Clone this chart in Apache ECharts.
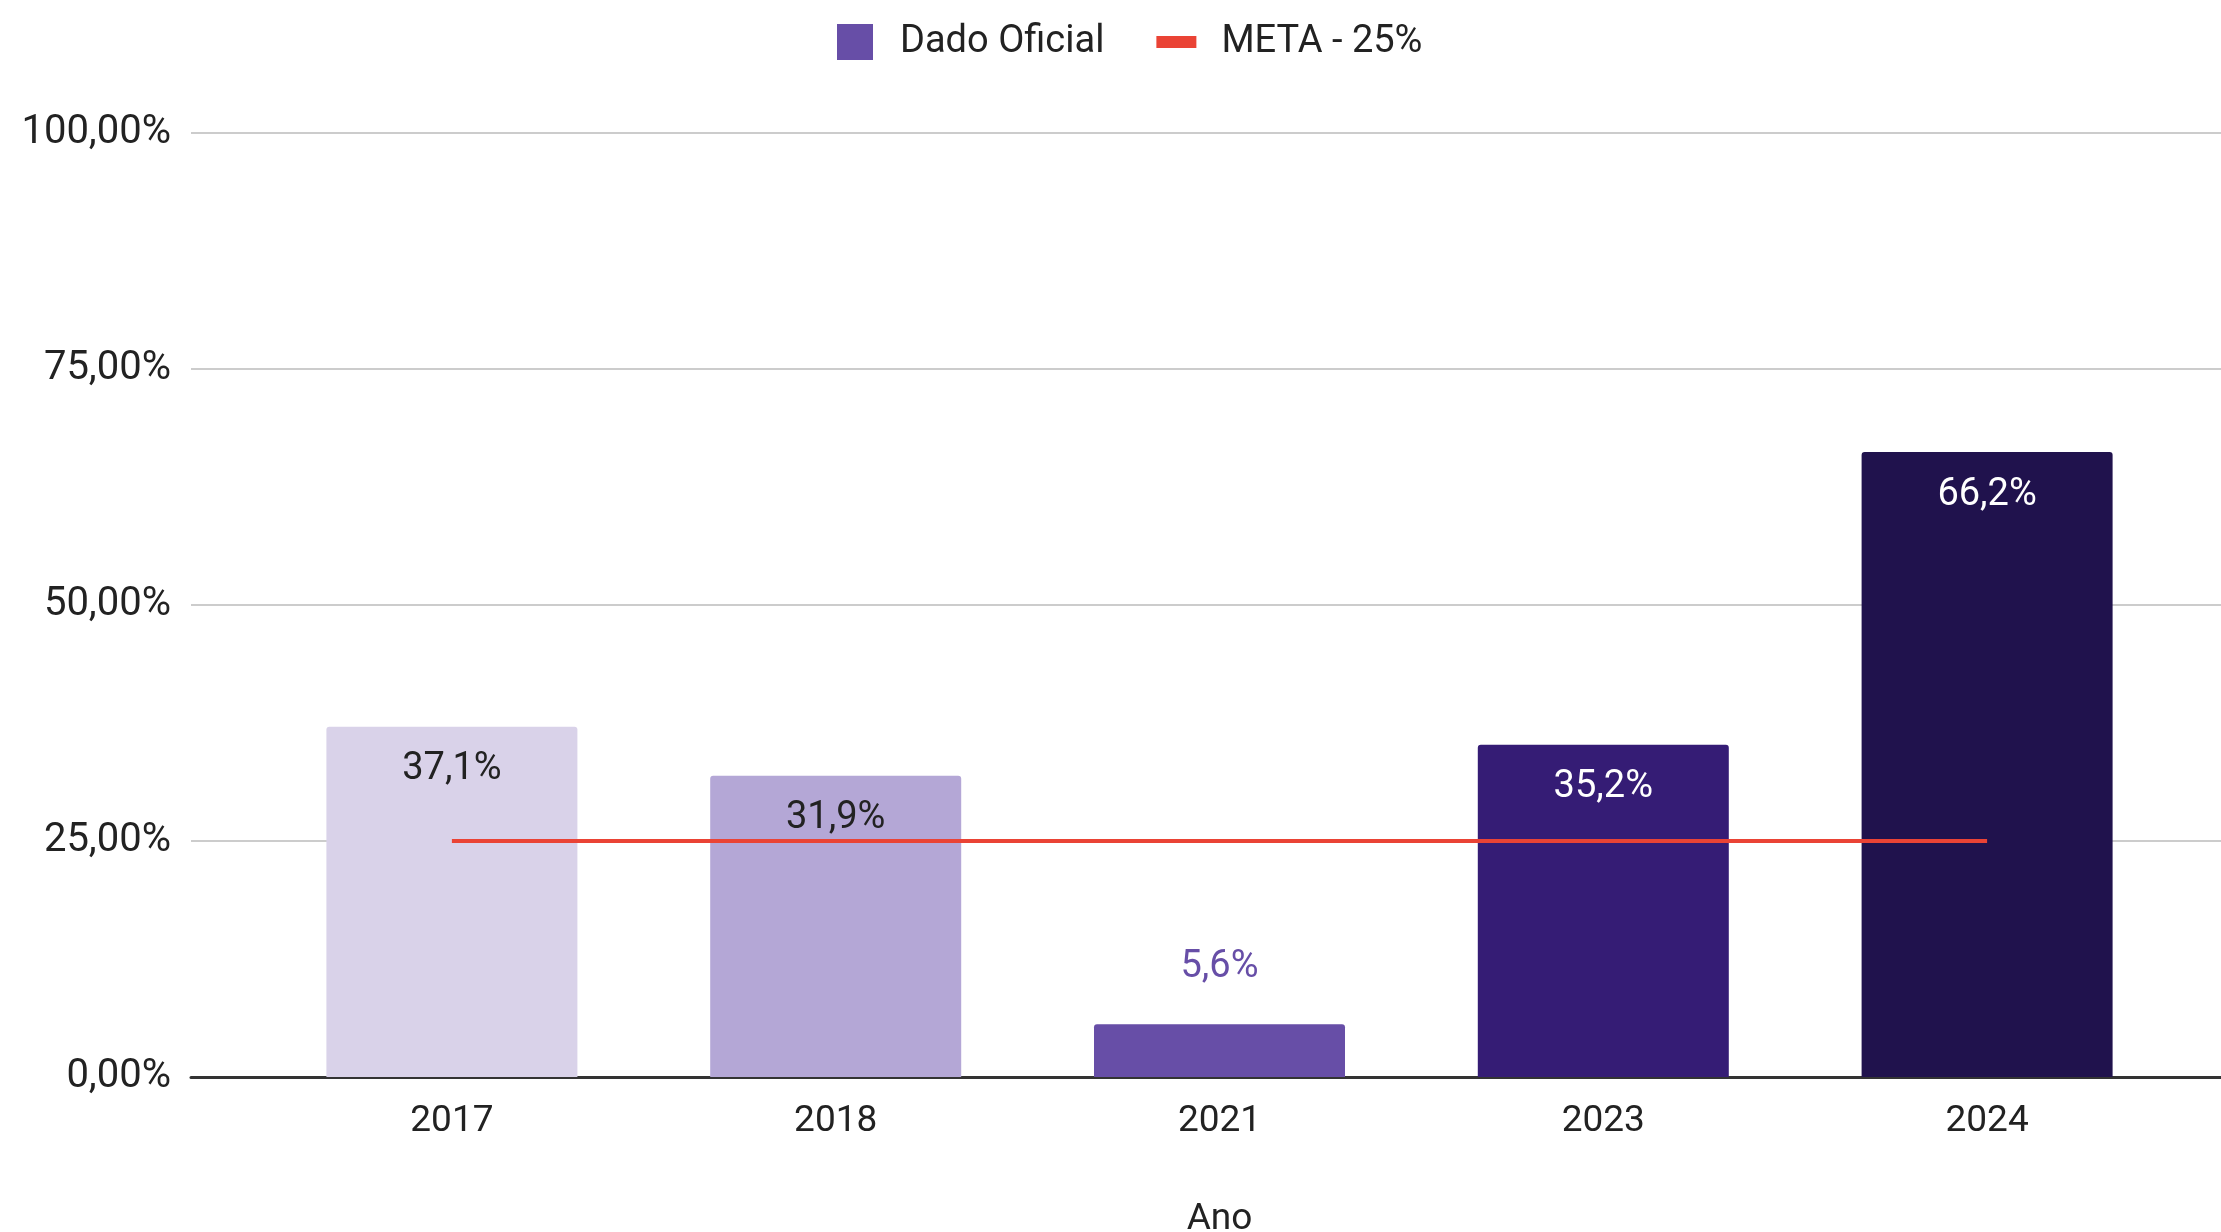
<!DOCTYPE html>
<html>
<head>
    <meta http-equiv="Content-Type" content="text/html; charset=utf-8" />
    <script type="text/javascript" src="https://cdn.jsdelivr.net/npm/echarts@6/dist/echarts.min.js"></script>
    <style>
        html, body { margin: 0; padding: 0; background: #fff; }
    </style>
</head>
<body>
    <div id="chartDom" style="position: absolute; width: 2221px; height: 1232px;"></div>

    <script type="text/javascript">
        // dados
        var anos = ['2017', '2018', '2021', '2023', '2024'];
        var dadoOficial = [37.1, 31.9, 5.6, 35.2, 66.2];
        var meta = [25, 25, 25, 25, 25];
        var corBarras = ['#d9d2e9', '#b4a7d6', '#674ea7', '#351c75', '#20124d'];
        var corRotulos = ['#222222', '#222222', '#674ea7', '#ffffff', '#ffffff'];
        var rotuloDentro = [true, true, false, true, true];
        var ticksY = [0, 25, 50, 75, 100];

        var fonte = 'Roboto';

        var barData = dadoOficial.map(function (v, i) {
            return {
                value: v,
                itemStyle: { color: corBarras[i] },
                label: {
                    color: corRotulos[i],
                    position: rotuloDentro[i] ? 'insideTop' : 'top',
                    distance: rotuloDentro[i] ? 24 : 38
                }
            };
        });

        var myChart = echarts.init(document.getElementById("chartDom"));
        var option = {
            animation: false,
            backgroundColor: '#ffffff',
            textStyle: { fontFamily: fonte },
            legend: {
                top: 23,
                left: 837,
                padding: 0,
                itemWidth: 40,
                itemHeight: 36,
                itemGap: 52,
                textStyle: { fontSize: 38, color: '#222222', fontFamily: fonte, padding: [0, 0, 0, 20] },
                data: [
                    { name: 'Dado Oficial', icon: 'path://M0,0h10v10h-10z', itemStyle: { color: '#674ea7' } },
                    { name: 'META - 25%', icon: 'path://M0,0h40v12h-40z', itemStyle: { color: '#ea4335' } }
                ]
            },
            grid: [
                { left: 191, right: 0, top: 133, bottom: 155, outerBoundsMode: 'none' },
                { left: 260, right: 42, top: 133, bottom: 155, outerBoundsMode: 'none' }
            ],
            xAxis: [
                {
                    gridIndex: 0, type: 'value', min: 0, max: 1,
                    axisLine: { show: true, lineStyle: { color: '#333333', width: 3 } },
                    axisTick: { show: false }, axisLabel: { show: false }, splitLine: { show: false }
                },
                {
                    gridIndex: 1, type: 'category', data: anos,
                    axisLine: { show: false }, axisTick: { show: false },
                    axisLabel: { fontSize: 37, color: '#222222', margin: 26, fontFamily: fonte },
                    name: 'Ano', nameLocation: 'middle', nameGap: 124,
                    nameTextStyle: { fontSize: 37, color: '#222222', fontFamily: fonte }
                }
            ],
            yAxis: [
                {
                    gridIndex: 0, type: 'value', min: 0, max: 100, interval: 25,
                    axisLine: { show: false }, axisTick: { show: false },
                    axisLabel: {
                        fontSize: 40, color: '#222222', margin: 20, fontFamily: fonte,
                        formatter: function (v) { return v.toFixed(2).replace('.', ',') + '%'; }
                    },
                    splitLine: { lineStyle: { color: '#cccccc', width: 2 } }
                },
                {
                    gridIndex: 1, type: 'value', min: 0, max: 100, interval: 25,
                    show: false, splitLine: { show: false }
                }
            ],
            series: [
                {
                    name: 'Dado Oficial', type: 'bar', xAxisIndex: 1, yAxisIndex: 1,
                    barWidth: 251, data: barData, itemStyle: { color: '#674ea7', borderRadius: [3, 3, 0, 0] },
                    label: {
                        show: true, fontSize: 38, fontFamily: fonte,
                        formatter: function (p) { return p.value.toFixed(1).replace('.', ',') + '%'; }
                    },
                    z: 2
                },
                {
                    name: 'META - 25%', type: 'line', xAxisIndex: 1, yAxisIndex: 1,
                    data: meta, showSymbol: false, symbol: 'none',
                    lineStyle: { color: '#ea4335', width: 4 }, itemStyle: { color: '#ea4335' },
                    z: 3
                }
            ]
        };
        myChart.setOption(option);
    </script>
</body>
</html>
